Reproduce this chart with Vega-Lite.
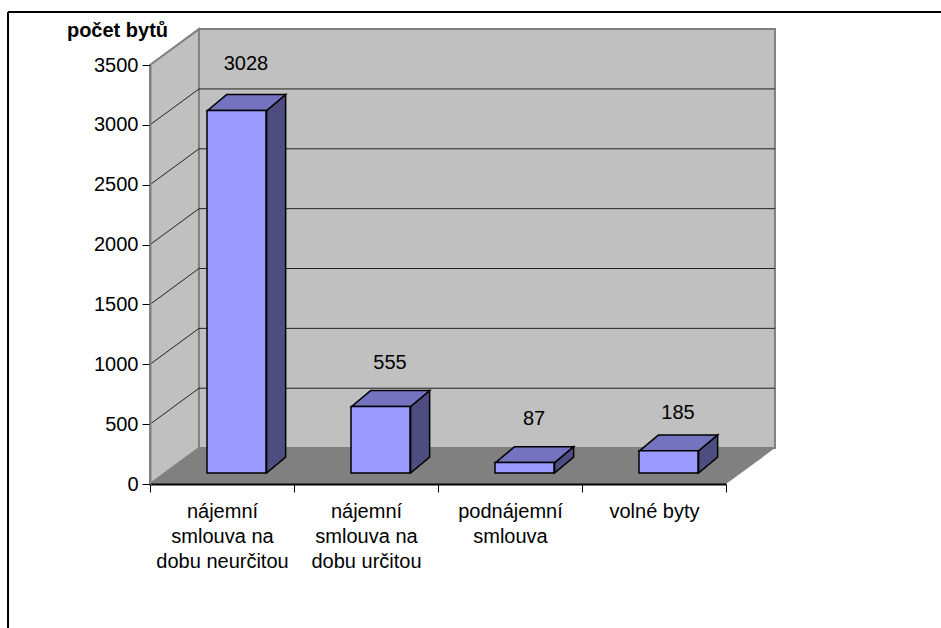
{
"$schema":"https://vega.github.io/schema/vega-lite/v6.json",
"width":576,"height":419,
"autosize":{"type":"none"},
"padding":{"left":150,"top":65,"right":215,"bottom":144},
"background":"white",
"config":{"view":{"stroke":null},"font":"Liberation Sans","text":{"font":"Liberation Sans"}},
"data":{"values":[
{"kategorie":"nájemní smlouva na dobu neurčitou","pocet":3028},
{"kategorie":"nájemní smlouva na dobu určitou","pocet":555},
{"kategorie":"podnájemní smlouva","pocet":87},
{"kategorie":"volné byty","pocet":185}
]},
"resolve":{"scale":{"x":"independent"},"axis":{"y":"independent"}},
"layer":[
{"data":{"values":[{"bod":0},{"bod":1}]},
 "transform":[{"calculate":"datum.bod*0.34","as":"px"},{"calculate":"datum.bod*300","as":"py"},{"calculate":"3500+datum.bod*300","as":"py2"}],
 "mark":{"type":"area","fill":"#c0c0c0","stroke":"#808080","strokeWidth":2,"opacity":1},
 "encoding":{"x":{"field":"px","type":"quantitative","scale":{"domain":[0,4],"nice":false,"zero":false},"axis":null},
 "y":{"field":"py","type":"quantitative","scale":{"domain":[0,3500],"nice":false},"axis":{"orient":"left","values":[0,500,1000,1500,2000,2500,3000,3500],"format":"d","title":"počet bytů","titleAngle":0,"titleX":-33,"titleY":-35,"titleAlign":"center","titleBaseline":"middle","titleFontSize":20,"titleFontWeight":"bold","titleColor":"black","labelFontSize":20,"labelColor":"black","tickColor":"black","tickSize":8,"tickWidth":1,"labelPadding":4,"domainColor":"#808080","domainWidth":2,"grid":false,"labelFont":"Liberation Sans","titleFont":"Liberation Sans","zindex":1}},
 "y2":{"field":"py2"}}},
{"data":{"values":[{}]},
 "mark":{"type":"rect","fill":"#c0c0c0","stroke":"#808080","strokeWidth":2},
 "encoding":{"x":{"datum":0.34,"type":"quantitative","scale":{"domain":[0,4],"nice":false,"zero":false},"axis":null},"x2":{"datum":4.34},"y":{"datum":300,"type":"quantitative","axis":null},"y2":{"datum":3800}}},
{"data":{"values":[{"bod":0},{"bod":1}]},
 "transform":[{"calculate":"datum.bod*0.34","as":"px"},{"calculate":"4+datum.bod*0.34","as":"px2"},{"calculate":"datum.bod*300","as":"py"}],
 "mark":{"type":"area","orient":"horizontal","fill":"#808080","opacity":1},
 "encoding":{"x":{"field":"px","type":"quantitative","scale":{"domain":[0,4],"nice":false,"zero":false},"axis":null},"x2":{"field":"px2"},"y":{"field":"py","type":"quantitative","axis":null}}},
{"data":{"values":[{"hodnota":500},{"hodnota":1000},{"hodnota":1500},{"hodnota":2000},{"hodnota":2500},{"hodnota":3000}]},
 "transform":[{"calculate":"[0,1]","as":"bod"},{"flatten":["bod"]},{"calculate":"datum.bod*0.34","as":"px"},{"calculate":"datum.hodnota+datum.bod*300","as":"py"}],
 "mark":{"type":"line","stroke":"#222222","strokeWidth":1},
 "encoding":{"x":{"field":"px","type":"quantitative","scale":{"domain":[0,4],"nice":false,"zero":false},"axis":null},"y":{"field":"py","type":"quantitative","axis":null},"detail":{"field":"hodnota"}}},
{"data":{"values":[{"hodnota":500},{"hodnota":1000},{"hodnota":1500},{"hodnota":2000},{"hodnota":2500},{"hodnota":3000}]},
 "transform":[{"calculate":"datum.hodnota+300","as":"py"}],
 "mark":{"type":"rule","stroke":"#222222","strokeWidth":1},
 "encoding":{"x":{"datum":0.34,"type":"quantitative","scale":{"domain":[0,4],"nice":false,"zero":false},"axis":null},"x2":{"datum":4.34},"y":{"field":"py","type":"quantitative","axis":null}}},
{"transform":[{"window":[{"op":"row_number","as":"rn"}]},{"calculate":"[0,1]","as":"bod"},{"flatten":["bod"]},
 {"calculate":"datum.rn-1+0.81+datum.bod*0.132","as":"px"},{"calculate":"92+datum.bod*133","as":"py"},{"calculate":"datum.pocet+92+datum.bod*133","as":"py2"}],
 "mark":{"type":"area","fill":"#4d4d80","stroke":"black","strokeWidth":1.5,"opacity":1},
 "encoding":{"x":{"field":"px","type":"quantitative","scale":{"domain":[0,4],"nice":false,"zero":false},"axis":null},"y":{"field":"py","type":"quantitative","axis":null},"y2":{"field":"py2"},"detail":{"field":"kategorie"}}},
{"transform":[{"window":[{"op":"row_number","as":"rn"}]},{"calculate":"[0,1]","as":"bod"},{"flatten":["bod"]},
 {"calculate":"datum.rn-1+0.4+datum.bod*0.132","as":"px"},{"calculate":"datum.rn-1+0.81+datum.bod*0.132","as":"px2"},{"calculate":"datum.pocet+92+datum.bod*133","as":"py"}],
 "mark":{"type":"area","orient":"horizontal","fill":"#7373bf","stroke":"black","strokeWidth":1.5,"opacity":1},
 "encoding":{"x":{"field":"px","type":"quantitative","scale":{"domain":[0,4],"nice":false,"zero":false},"axis":null},"x2":{"field":"px2"},"y":{"field":"py","type":"quantitative","axis":null},"detail":{"field":"kategorie"}}},
{"mark":{"type":"bar","width":59,"xOffset":14.5,"x2Offset":14.5,"yOffset":-11,"y2Offset":-11,"fill":"#9999ff","stroke":"black","strokeWidth":1.5},
 "encoding":{"x":{"field":"kategorie","type":"nominal","sort":null,"scale":{"type":"band","paddingInner":0,"paddingOuter":0},
 "axis":{"title":null,"labelAngle":0,"labelFontSize":20,"labelColor":"black","labelFont":"Liberation Sans","labelLineHeight":25,"labelPadding":9,"labelBaseline":"top","labelOverlap":false,"labelLimit":300,"tickBand":"extent","tickColor":"black","tickSize":8,"tickWidth":1,"domainColor":"black","domainWidth":2,"zindex":1,
 "labelExpr":"split(replace(replace(datum.label,'í s','í|s'),'a d','a|d'),'|')"}},
 "y":{"field":"pocet","type":"quantitative","axis":null}}},
{"transform":[{"filter":"datum.pocet==555||datum.pocet==87"}],
 "mark":{"type":"text","fontSize":20,"color":"black","xOffset":24,"yOffset":-55,"baseline":"middle","font":"Liberation Sans"},
 "encoding":{"x":{"field":"kategorie","type":"nominal","sort":null,"scale":{"type":"band","domain":["nájemní smlouva na dobu neurčitou","nájemní smlouva na dobu určitou","podnájemní smlouva","volné byty"],"paddingInner":0,"paddingOuter":0},"axis":null},"y":{"field":"pocet","type":"quantitative","axis":null},"text":{"field":"pocet","type":"quantitative","format":"d"}}},
{"transform":[{"filter":"datum.pocet==3028"}],
 "mark":{"type":"text","fontSize":20,"color":"black","xOffset":24,"yOffset":-58,"baseline":"middle","font":"Liberation Sans"},
 "encoding":{"x":{"field":"kategorie","type":"nominal","sort":null,"scale":{"type":"band","domain":["nájemní smlouva na dobu neurčitou","nájemní smlouva na dobu určitou","podnájemní smlouva","volné byty"],"paddingInner":0,"paddingOuter":0},"axis":null},"y":{"field":"pocet","type":"quantitative","axis":null},"text":{"field":"pocet","type":"quantitative","format":"d"}}},
{"transform":[{"filter":"datum.pocet==185"}],
 "mark":{"type":"text","fontSize":20,"color":"black","xOffset":24,"yOffset":-49,"baseline":"middle","font":"Liberation Sans"},
 "encoding":{"x":{"field":"kategorie","type":"nominal","sort":null,"scale":{"type":"band","domain":["nájemní smlouva na dobu neurčitou","nájemní smlouva na dobu určitou","podnájemní smlouva","volné byty"],"paddingInner":0,"paddingOuter":0},"axis":null},"y":{"field":"pocet","type":"quantitative","axis":null},"text":{"field":"pocet","type":"quantitative","format":"d"}}},
{"data":{"values":[{}]},
 "mark":{"type":"rule","stroke":"black","strokeWidth":2},
 "encoding":{"x":{"datum":-0.986,"type":"quantitative","scale":{"domain":[0,4],"nice":false,"zero":false},"axis":null},"x2":{"datum":5.6},"y":{"datum":3943,"type":"quantitative","axis":null}}},
{"data":{"values":[{}]},
 "mark":{"type":"rule","stroke":"black","strokeWidth":2},
 "encoding":{"x":{"datum":-0.986,"type":"quantitative","scale":{"domain":[0,4],"nice":false,"zero":false},"axis":null},"y":{"datum":3943,"type":"quantitative","axis":null},"y2":{"datum":-1300}}}
]}
